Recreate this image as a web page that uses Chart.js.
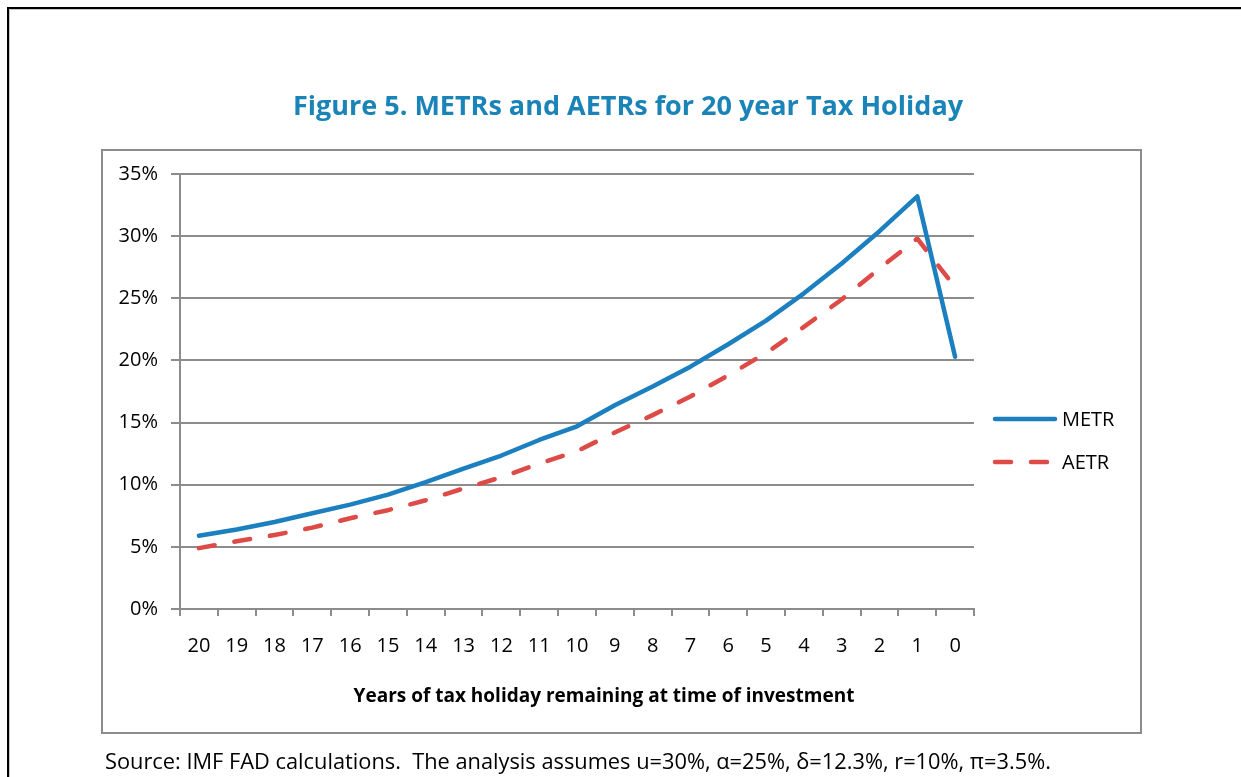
<!DOCTYPE html>
<html>
<head>
<meta charset="utf-8">
<title>Figure 5. METRs and AETRs for 20 year Tax Holiday</title>
<script src="https://cdn.jsdelivr.net/npm/chart.js@4"></script>
<style>
  html, body { margin: 0; padding: 0; background: #fff; }
  #page { position: absolute; left: 7px; top: 7px; width: 1240px; height: 780px;
          border-top: 2px solid #000; border-left: 2px solid #000; box-shadow: inset 1px 1px 0 #c8c8c8; }
  #chart { position: absolute; left: 0; top: 0; }
</style>
</head>
<body>
<div id="page"></div>
<canvas id="chart" width="1241" height="777"></canvas>
<script>

    var years = ['20', '19', '18', '17', '16', '15', '14', '13', '12', '11', '10',
                 '9', '8', '7', '6', '5', '4', '3', '2', '1', '0'];
    var metr = [5.9, 6.4, 7.0, 7.7, 8.4, 9.2, 10.2, 11.3, 12.35, 13.6, 14.7,
                16.4, 17.9, 19.5, 21.3, 23.2, 25.4, 27.8, 30.4, 33.2, 20.3];
    var aetr = [4.9, 5.45, 5.95, 6.55, 7.3, 7.95, 8.75, 9.7, 10.6, 11.7, 12.7,
                14.2, 15.6, 17.1, 18.8, 20.6, 22.7, 24.9, 27.4, 29.8, 25.9];
    var yTicks = [0, 5, 10, 15, 20, 25, 30, 35];

    var gray = '#8c8c8c';

    // title, frame, legend and notes around the plot
    var decorations = {
      id: 'decorations',
      beforeDraw: function(chart) {
        var ctx = chart.ctx;
        ctx.save();
        ctx.strokeStyle = gray;
        ctx.lineWidth = 2;
        ctx.strokeRect(102, 150, 1039, 583);
        ctx.restore();
      },
      afterDraw: function(chart) {
        var ctx = chart.ctx;
        ctx.save();
        ctx.textBaseline = 'middle';

        ctx.fillStyle = '#1a84b8';
        ctx.font = 'bold 27px "Open Sans"';
        ctx.textAlign = 'center';
        ctx.fillText('Figure 5. METRs and AETRs for 20 year Tax Holiday', 628, 107);

        ctx.fillStyle = '#000';
        ctx.font = 'bold 19px "Open Sans"';
        ctx.fillText('Years of tax holiday remaining at time of investment', 604, 697);

        ctx.textAlign = 'left';
        ctx.font = '21.8px "Open Sans"';
        ctx.fillText('Source: IMF FAD calculations.  The analysis assumes u=30%, \u03b1=25%, \u03b4=12.3%, r=10%, \u03c0=3.5%.', 105, 763);

        // legend
        var rows = [419, 462];
        chart.data.datasets.forEach(function(ds, i) {
          ctx.beginPath();
          ctx.strokeStyle = ds.borderColor;
          ctx.lineWidth = ds.borderWidth;
          ctx.lineCap = 'round';
          ctx.setLineDash(ds.borderDash || []);
          ctx.moveTo(995, rows[i]);
          ctx.lineTo(1055, rows[i]);
          ctx.stroke();
          ctx.setLineDash([]);
          ctx.fillStyle = '#000';
          ctx.font = '20px "Open Sans"';
          ctx.fillText(ds.label, 1062, rows[i] + 1);
        });
        ctx.restore();
      }
    };

    var config = {
      type: 'line',
      data: {
        labels: years,
        datasets: [{
          label: 'METR',
          data: metr,
          borderColor: '#1b7fc0',
          borderWidth: 4.5,
          borderCapStyle: 'round',
          borderJoinStyle: 'round',
          pointRadius: 0,
          tension: 0,
          fill: false
        }, {
          label: 'AETR',
          data: aetr,
          borderColor: '#de4a46',
          borderWidth: 4.5,
          borderDash: [16, 20],
          borderCapStyle: 'round',
          borderJoinStyle: 'round',
          pointRadius: 0,
          tension: 0,
          fill: false
        }]
      },
      options: {
        responsive: false,
        animation: false,
        devicePixelRatio: 1,
        layout: {
          padding: { left: 102, right: 267, top: 174, bottom: 108 }
        },
        plugins: {
          legend: { display: false },
          title: { display: false },
          tooltip: { enabled: false }
        },
        scales: {
          x: {
            type: 'category',
            offset: true,
            grid: {
              offset: true,
              drawOnChartArea: false,
              drawTicks: true,
              tickLength: 7,
              color: gray,
              lineWidth: 2
            },
            border: { display: true, color: gray, width: 2 },
            ticks: {
              color: '#000',
              padding: 18,
              maxRotation: 0,
              autoSkip: false,
              font: { family: 'Open Sans', size: 20 }
            },
            afterFit: function(scale) {
              scale.height = 60;
              scale.paddingLeft = 0;
              scale.paddingRight = 0;
            }
          },
          y: {
            min: 0,
            max: 35,
            afterBuildTicks: function(scale) {
              scale.ticks = yTicks.map(function(v) { return { value: v }; });
            },
            grid: {
              color: gray,
              lineWidth: 2,
              tickLength: 9
            },
            border: { display: true, color: gray, width: 2 },
            ticks: {
              color: '#000',
              padding: 13,
              font: { family: 'Open Sans', size: 20 },
              callback: function(v) { return v + '%'; }
            },
            afterFit: function(scale) {
              scale.width = 78;
              scale.paddingTop = 0;
              scale.paddingBottom = 0;
            }
          }
        }
      },
      plugins: [decorations]
    };

    window.onload = function() {
      var ctx = document.getElementById('chart').getContext('2d');
      window.myLine = new Chart(ctx, config);
    };

</script>
</body>
</html>
